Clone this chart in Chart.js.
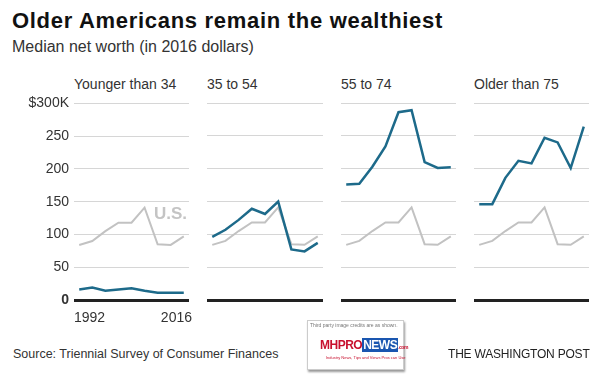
<!DOCTYPE html>
<html>
<head>
<meta charset="utf-8">
<script src="https://cdn.jsdelivr.net/npm/chart.js@4.4.0/dist/chart.umd.min.js"></script>
<style>
  body { margin: 0; background: #fff; font-family: "Liberation Sans", Arial, sans-serif; color: #222; }
  #wrap { position: relative; width: 600px; height: 376px; overflow: hidden; }
  .abs { position: absolute; white-space: nowrap; }
  #title { left: 12px; top: 8px; font-size: 22px; letter-spacing: 0.7px; font-weight: bold; color: #111; }
  #subtitle { left: 12px; top: 38px; font-size: 16px; color: #333; }
  .panel-label { top: 76px; font-size: 14px; color: #333; }
  canvas { position: absolute; top: 90px; }
  #us { left: 154px; top: 204px; font-size: 17px; font-weight: bold; color: #c4c4c4; }
  #source { left: 13px; top: 347px; font-size: 12.5px; color: #333; }
  #wapo { left: 448px; top: 347px; font-size: 12px; letter-spacing: -0.2px; color: #222; }
  #logo { left: 307px; top: 320px; width: 95px; height: 48px; border: 1px solid #ccc; box-shadow: 1px 2px 2px #999; background: #fff; }
  #logo .credit { position: absolute; left: 2px; top: 1px; font-size: 5px; color: #777; }
  #logo .mh { position: absolute; left: 12px; top: 17px; font-size: 12px; font-weight: bold; color: #c8102e; letter-spacing: -0.5px; }
  #logo .mh span { background: #1a56b0; color: #fff; padding: 0 1px; }
  #logo .tag { position: absolute; left: 18px; top: 34px; font-size: 4px; color: #c8102e; }
</style>
</head>
<body>
<div id="wrap">
  <div id="title" class="abs">Older Americans remain the wealthiest</div>
  <div id="subtitle" class="abs">Median net worth (in 2016 dollars)</div>
  <div class="abs panel-label" style="left:74px">Younger than 34</div>
  <div class="abs panel-label" style="left:207px">35 to 54</div>
  <div class="abs panel-label" style="left:341px">55 to 74</div>
  <div class="abs panel-label" style="left:474px">Older than 75</div>

  <canvas id="c1" width="195" height="240" style="left:0px"></canvas>
  <canvas id="c2" width="122" height="240" style="left:204px"></canvas>
  <canvas id="c3" width="121" height="240" style="left:338px"></canvas>
  <canvas id="c4" width="121" height="240" style="left:471px"></canvas>

  <div id="us" class="abs">U.S.</div>
  <div id="source" class="abs">Source: Triennial Survey of Consumer Finances</div>
  <div id="logo" class="abs">
    <div class="credit">Third party image credits are as shown.</div>
    <div class="mh">MHPRO<span>NEWS</span><small style="font-size:5px">.com</small></div>
    <div class="tag">Industry News, Tips and Views Pros can Use</div>
  </div>
  <div id="wapo" class="abs">THE WASHINGTON POST</div>
</div>
<script>
const years = [1992, 1995, 1998, 2001, 2004, 2007, 2010, 2013, 2016];
const usMedian = [84, 90, 105, 118, 118, 141, 85, 84, 97];
const under35 = [16, 19, 14, 16, 18, 14, 11, 11, 11];
const age35to54 = [96, 107, 122, 139, 131, 150, 77, 74, 87];
const age55to74 = [176, 177, 203, 234, 286, 289, 210, 201, 202];
const over75 = [146, 146, 186, 212, 208, 247, 240, 201, 264];
const yTicks = [0, 50, 100, 150, 200, 250, 300];
const xLabels = [1992, 2016];

const teal = '#1d6a8a';
const gray = '#c2c2c2';
const font = '"Liberation Sans", Arial, sans-serif';

function pts(values) {
    return years.map((y, i) => ({ x: y, y: values[i] }));
}

// first/last year labels sit flush with the panel edges, like the original
const yearLabels = {
    id: 'yearLabels',
    afterDraw(chart, args, opts) {
        if (!opts.show) return;
        const c = chart.ctx;
        const area = chart.chartArea;
        c.save();
        c.font = '14px ' + font;
        c.fillStyle = '#333';
        c.textBaseline = 'top';
        c.textAlign = 'left';
        c.fillText(String(xLabels[0]), area.left, area.bottom + 11);
        c.textAlign = 'right';
        c.fillText(String(xLabels[xLabels.length - 1]), area.right + 3, area.bottom + 11);
        c.restore();
    }
};

function makePanel(id, values, first) {
    const ctx = document.getElementById(id).getContext('2d');
    new Chart(ctx, {
        type: 'line',
        data: {
            datasets: [{
                data: pts(values),
                borderColor: teal,
                borderWidth: 2.5,
                pointRadius: 0,
                tension: 0
            }, {
                data: pts(usMedian),
                borderColor: gray,
                borderWidth: 2,
                pointRadius: 0,
                tension: 0
            }]
        },
        options: {
            responsive: false,
            animation: false,
            layout: { padding: { top: 13, left: first ? 0 : 3, right: first ? 6 : 3, bottom: 0 } },
            plugins: {
                legend: { display: false },
                tooltip: { enabled: false },
                yearLabels: { show: first }
            },
            scales: {
                x: {
                    type: 'linear',
                    min: 1990.8,
                    max: 2017.2,
                    afterFit: scale => { scale.height = 30; },
                    grid: { display: false },
                    border: { display: false },
                    ticks: { display: false }
                },
                y: {
                    min: 0,
                    max: 300,
                    afterBuildTicks: scale => { scale.ticks = yTicks.map(v => ({ value: v })); },
                    afterFit: scale => { scale.width = first ? 74 : 0; },
                    border: { display: false },
                    grid: {
                        drawTicks: false,
                        color: c => c.tick && c.tick.value === 0 ? '#222' : '#d6d6d6',
                        lineWidth: c => c.tick && c.tick.value === 0 ? 3 : 1
                    },
                    ticks: {
                        display: first,
                        padding: 5,
                        color: '#333',
                        font: c => ({ family: font, size: 14, weight: c.tick && c.tick.value === 0 ? 'bold' : 'normal' }),
                        callback: v => v === 300 ? '$300K' : v
                    }
                }
            }
        },
        plugins: [yearLabels]
    });
}

makePanel('c1', under35, true);
makePanel('c2', age35to54, false);
makePanel('c3', age55to74, false);
makePanel('c4', over75, false);
</script>
</body>
</html>
